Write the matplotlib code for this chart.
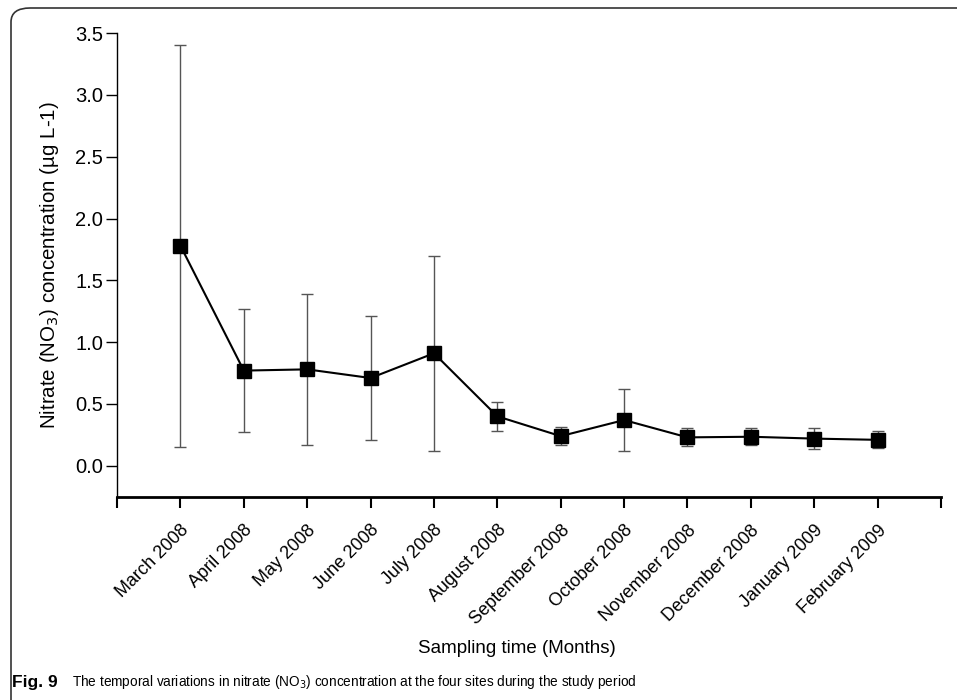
import numpy as np
import matplotlib.pyplot as plt
from matplotlib.patches import FancyBboxPatch

# sampling months and nitrate means / error
months = ['March 2008', 'April 2008', 'May 2008', 'June 2008', 'July 2008',
          'August 2008', 'September 2008', 'October 2008', 'November 2008',
          'December 2008', 'January 2009', 'February 2009']
nitrate = [1.78, 0.77, 0.78, 0.71, 0.91, 0.40, 0.24, 0.37, 0.23, 0.235, 0.22, 0.21]
err = [1.625, 0.50, 0.61, 0.505, 0.79, 0.115, 0.075, 0.25, 0.072, 0.07, 0.087, 0.07]

plt.rcParams['font.family'] = ['Liberation Sans', 'DejaVu Sans']

fig = plt.figure(figsize=(9.57, 7.0), dpi=100)
ax = fig.add_axes([0.1223, 0.2904, 0.861, 0.6624])

x = np.arange(1, len(months) + 1)
ax.errorbar(x, nitrate, yerr=err, fmt='none', ecolor='#555555', elinewidth=1.0,
            capsize=4.5, capthick=1.0, zorder=2)
ax.plot(x, nitrate, color='black', lw=1.5, marker='s', markersize=10.5,
        markerfacecolor='black', markeredgecolor='black', zorder=3)

ax.set_xlim(0, 13)
ax.set_ylim(-0.25, 3.5)
ax.set_xticks(np.arange(0, 14))
ax.set_xticklabels([''] + months + [''], rotation=45, ha='right',
                   rotation_mode='anchor', fontsize=13)
ax.set_yticks(np.arange(0, 3.51, 0.5))
ax.set_yticklabels(['{:.1f}'.format(v) for v in np.arange(0, 3.51, 0.5)], fontsize=14.5)

for s in ['top', 'right']:
    ax.spines[s].set_visible(False)
ax.spines['left'].set_linewidth(1.0)
ax.spines['bottom'].set_linewidth(2.0)
ax.tick_params(axis='x', direction='out', length=8, width=1.5, pad=10)
ax.tick_params(axis='y', direction='out', length=8, width=1.0, pad=2)

ax.set_ylabel('Nitrate (NO$_3$) concentration (µg L-1)', fontsize=14.8, labelpad=10)
ax.set_xlabel('Sampling time (Months)', fontsize=13.5)
ax.xaxis.set_label_coords(0.485, -0.31)

# rounded frame around the figure
frame = FancyBboxPatch((11 / 957, -0.2), 1.2, 1.2 - 8 / 700,
                       boxstyle='round,pad=0,rounding_size=0.02',
                       transform=fig.transFigure, fill=False,
                       edgecolor='#333333', lw=1.2, clip_on=False)
fig.patches.append(frame)

fig.text(12 / 957, 1 - 682 / 700, 'Fig. 9', fontsize=12.5, fontweight='bold',
         va='center')
fig.text(72 / 957, 1 - 682 / 700,
         'The temporal variations in nitrate (NO$_3$) concentration at the four sites during the study period',
         fontsize=9.8, va='center')

fig.savefig('out.png', dpi=100)
